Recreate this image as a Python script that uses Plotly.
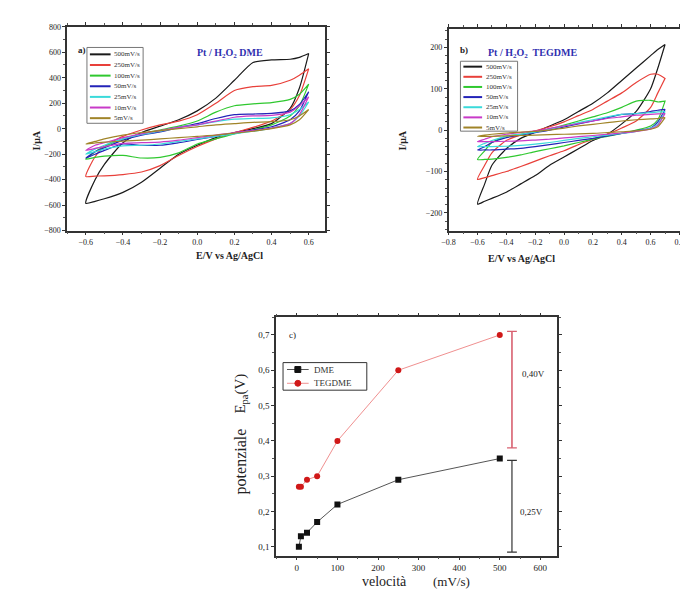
import plotly.graph_objects as go

# ---------------- data ----------------
rates = ["500mV/s", "250mV/s", "100mV/s", "50mV/s", "25mV/s", "10mV/s", "5mV/s"]
colors = ["#1a1a1a", "#e8403a", "#2fc82f", "#2323b8", "#3adada", "#c83ac8", "#a08428"]

# panel a (Pt / H2O2 DME) potential grid, forward scan (reverse scan uses it backwards)
Ea = [-0.6, -0.55, -0.5, -0.4, -0.3, -0.2, -0.1, 0.0, 0.1, 0.2, 0.3, 0.4, 0.5, 0.55, 0.6]
a500_f = [-585, -400, -280, -110, -30, 20, 70, 140, 240, 380, 520, 540, 545, 560, 590]
a500_r = [590, 320, 160, 40, 0, -30, -70, -130, -200, -310, -420, -500, -550, -570, -585]
a250_f = [-375, -220, -140, -60, -10, 30, 60, 110, 200, 300, 330, 340, 380, 420, 470]
a250_r = [470, 260, 150, 60, 10, -30, -80, -140, -210, -290, -340, -360, -370, -372, -375]
a100_f = [-240, -180, -140, -80, -40, -10, 20, 60, 130, 180, 195, 205, 230, 270, 350]
a100_r = [350, 180, 100, 30, -10, -40, -80, -120, -190, -225, -230, -210, -215, -225, -240]
a50_f = [-230, -180, -150, -90, -50, -25, 10, 40, 80, 110, 115, 120, 140, 190, 290]
a50_r = [290, 140, 70, 15, -10, -35, -60, -85, -110, -130, -130, -120, -170, -200, -230]
a25_f = [-200, -160, -130, -80, -45, -20, 10, 30, 55, 75, 80, 85, 110, 150, 210]
a25_r = [210, 100, 40, 5, -20, -40, -60, -80, -100, -120, -130, -135, -160, -180, -200]
a10_f = [-170, -130, -110, -70, -40, -15, 10, 30, 60, 90, 100, 105, 130, 180, 250]
a10_r = [250, 110, 40, 5, -15, -30, -50, -70, -90, -105, -110, -115, -140, -155, -170]
a5_f = [-120, -100, -80, -50, -30, -15, 0, 15, 30, 40, 50, 55, 70, 100, 150]
a5_r = [150, 70, 30, 0, -20, -35, -50, -60, -70, -80, -90, -98, -105, -112, -120]

# panel b (Pt / H2O2 TEGDME)
Eb = [-0.6, -0.55, -0.5, -0.4, -0.3, -0.2, -0.1, 0.0, 0.1, 0.2, 0.3, 0.4, 0.5, 0.6, 0.65, 0.7]
b500_f = [-179, -130, -85, -45, -20, -5, 10, 25, 45, 65, 90, 120, 150, 180, 195, 207]
b500_r = [207, 150, 100, 45, 15, -10, -25, -45, -65, -85, -110, -130, -150, -165, -172, -179]
b250_f = [-119, -85, -55, -25, -12, -2, 8, 20, 35, 50, 70, 90, 115, 135, 135, 125]
b250_r = [125, 90, 55, 22, 5, -10, -22, -35, -50, -62, -75, -88, -100, -110, -115, -119]
b100_f = [-71, -50, -30, -15, -10, -5, 3, 12, 22, 32, 42, 55, 70, 72, 68, 70]
b100_r = [70, 25, 10, 0, -8, -15, -22, -30, -38, -45, -52, -60, -66, -70, -71, -71]
b50_f = [-48, -40, -30, -18, -12, -6, 0, 8, 15, 22, 30, 38, 40, 45, 48, 50]
b50_r = [50, 20, 5, -2, -8, -14, -20, -25, -30, -35, -40, -44, -46, -48, -48, -48]
b25_f = [-40, -32, -25, -15, -10, -5, 2, 10, 18, 25, 32, 38, 40, 42, 44, 45]
b25_r = [45, 15, 5, -3, -8, -12, -16, -20, -25, -30, -34, -37, -39, -40, -40, -40]
b10_f = [-28, -22, -16, -10, -6, -2, 4, 10, 16, 22, 28, 32, 36, 38, 39, 40]
b10_r = [40, 12, 3, -3, -7, -10, -13, -16, -19, -22, -24, -26, -27, -28, -28, -28]
b5_f = [-15, -12, -10, -7, -5, -3, 0, 5, 10, 14, 18, 22, 25, 27, 28, 30]
b5_r = [30, 8, 2, -2, -4, -6, -8, -9, -10, -11, -12, -13, -14, -15, -15, -15]

# panel c: peak potential vs scan rate
v = [5, 10, 25, 50, 100, 250, 500]
Epa_DME = [0.10, 0.13, 0.14, 0.17, 0.22, 0.29, 0.35]
Epa_TEGDME = [0.27, 0.27, 0.29, 0.30, 0.40, 0.60, 0.70]
bracket_v = 530
span_TEGDME = [0.38, 0.71]
span_DME = [0.085, 0.345]
c_yticks = [0.1, 0.2, 0.3, 0.4, 0.5, 0.6, 0.7]
c_yticktext = ["0,1", "0,2", "0,3", "0,4", "0,5", "0,6", "0,7"]

a_sets = [(a500_f, a500_r), (a250_f, a250_r), (a100_f, a100_r), (a50_f, a50_r),
          (a25_f, a25_r), (a10_f, a10_r), (a5_f, a5_r)]
b_sets = [(b500_f, b500_r), (b250_f, b250_r), (b100_f, b100_r), (b50_f, b50_r),
          (b25_f, b25_r), (b10_f, b10_r), (b5_f, b5_r)]

SERIF = "Liberation Serif"
W, H = 688, 594
fig = go.Figure()

for i, (f, r) in enumerate(a_sets):
    fig.add_trace(go.Scatter(
        x=Ea + Ea[::-1], y=f + r, mode="lines", name=rates[i], showlegend=False,
        line=dict(color=colors[i], width=1.2, shape="spline", smoothing=0.6),
        xaxis="x", yaxis="y"))
for i, (f, r) in enumerate(b_sets):
    fig.add_trace(go.Scatter(
        x=Eb + Eb[::-1], y=f + r, mode="lines", name=rates[i], showlegend=False,
        line=dict(color=colors[i], width=1.2, shape="spline", smoothing=0.6),
        xaxis="x2", yaxis="y2"))

DME_LINE, DME_MK = "#555555", "#111111"
TEG_LINE, TEG_MK = "#f09090", "#d01818"
fig.add_trace(go.Scatter(x=v, y=Epa_DME, mode="lines+markers", name="DME", showlegend=False,
                         line=dict(color=DME_LINE, width=1),
                         marker=dict(symbol="square", size=6, color=DME_MK),
                         xaxis="x3", yaxis="y3"))
fig.add_trace(go.Scatter(x=v, y=Epa_TEGDME, mode="lines+markers", name="TEGDME", showlegend=False,
                         line=dict(color=TEG_LINE, width=1),
                         marker=dict(symbol="circle", size=6, color=TEG_MK),
                         xaxis="x3", yaxis="y3"))
fig.add_trace(go.Scatter(x=[bracket_v, bracket_v], y=span_TEGDME, mode="lines+markers",
                         line=dict(color="#d86070", width=1.6),
                         marker=dict(symbol="line-ew", size=7, line=dict(color="#d86070", width=1.2)),
                         showlegend=False, xaxis="x3", yaxis="y3"))
fig.add_trace(go.Scatter(x=[bracket_v, bracket_v], y=span_DME, mode="lines+markers",
                         line=dict(color="#333333", width=1.2),
                         marker=dict(symbol="line-ew", size=7, line=dict(color="#333333", width=1.2)),
                         showlegend=False, xaxis="x3", yaxis="y3"))


def px(x0, x1):
    return [x0 / W, x1 / W]


def py(top, bottom):
    return [1 - bottom / H, 1 - top / H]


def common(size):
    return dict(showline=True, linecolor="#333333", linewidth=1.5, mirror="ticks",
                ticks="outside", ticklen=3, tickcolor="#333333",
                tickfont=dict(family=SERIF, size=size, color="#222222"),
                showgrid=False, zeroline=False,
                minor=dict(ticks="outside", ticklen=2, tickcolor="#555555"))


fig.update_layout(
    width=W, height=H, margin=dict(l=0, r=0, t=0, b=0),
    paper_bgcolor="white", plot_bgcolor="white", showlegend=False,
    font=dict(family=SERIF, color="#222222"),
    xaxis=dict(domain=px(53, 315), range=[-0.70, 0.69], anchor="y",
               tickvals=[-0.6, -0.4, -0.2, 0.0, 0.2, 0.4, 0.6], tickformat=".1f", **common(8)),
    yaxis=dict(domain=py(15, 222), range=[-800, 800], anchor="x",
               tickvals=[-800, -600, -400, -200, 0, 200, 400, 600, 800], **common(8)),
    xaxis2=dict(domain=px(440, 686), range=[-0.8, 0.88], anchor="y2",
                tickvals=[-0.8, -0.6, -0.4, -0.2, 0.0, 0.2, 0.4, 0.6, 0.8], tickformat=".1f", **common(8)),
    yaxis2=dict(domain=py(17, 222), range=[-243, 245], anchor="x2",
                tickvals=[-200, -100, 0, 100, 200], **common(8)),
    xaxis3=dict(domain=px(265, 550), range=[-51, 641], anchor="y3",
                tickvals=[0, 100, 200, 300, 400, 500, 600], **common(9)),
    yaxis3=dict(domain=py(310, 552), range=[0.075, 0.75], anchor="x3",
                tickvals=c_yticks, ticktext=c_yticktext, **common(9)),
)

shapes = []
ann = []


def P(xp, yp):
    return xp / W, 1 - yp / H


def legend_box(x0, y0, x1, y1, color):
    a, b = P(x0, y0)
    c, d = P(x1, y1)
    shapes.append(dict(type="rect", xref="paper", yref="paper", x0=a, y0=d, x1=c, y1=b,
                       line=dict(color=color, width=1), fillcolor="white", layer="above"))


def legend_line(x0, x1, yp, color, width=2):
    a, b = P(x0, yp)
    c, _ = P(x1, yp)
    shapes.append(dict(type="line", xref="paper", yref="paper", x0=a, y0=b, x1=c, y1=b,
                       line=dict(color=color, width=width), layer="above"))


def legend_text(xp, yp, text, size):
    a, b = P(xp, yp)
    ann.append(dict(x=a, y=b, text=text, xanchor="left", yanchor="middle",
                    font=dict(size=size, color="#333333")))


# legend a
legend_box(73, 36, 130, 113, "#777777")
for i, name in enumerate(rates):
    yy = 43 + i * 10.8
    legend_line(76, 97, yy, colors[i])
    legend_text(98, yy, name, 7)
# legend b
legend_box(452, 50, 510, 121, "#777777")
for i, name in enumerate(rates):
    yy = 55.5 + i * 10.3
    legend_line(455, 474, yy, colors[i])
    legend_text(476, yy, name, 7)
# legend c
legend_box(272, 356, 357, 384, "#333333")
for j, (name, lc, mc, sym) in enumerate([("DME", DME_LINE, DME_MK, "square"),
                                          ("TEGDME", TEG_LINE, TEG_MK, "circle")]):
    yy = 363 + j * 14
    legend_line(276, 298, yy, lc, 1)
    a, b = P(284, yy - 3)
    c, d = P(290, yy + 3)
    shapes.append(dict(type="rect" if sym == "square" else "circle", xref="paper", yref="paper",
                       x0=a, y0=d, x1=c, y1=b, line=dict(color=mc, width=1), fillcolor=mc,
                       layer="above"))
    legend_text(301, yy, name, 9)

ann += [
    dict(x=62 / W, y=1 - 31 / H, text="<b>a)</b>", font=dict(size=9)),
    dict(x=183 / W, y=1 - 33 / H, text="<b>Pt / H<sub>2</sub>O<sub>2</sub> DME</b>",
         font=dict(size=10, color="#3030b0")),
    dict(x=456 / W, y=1 - 31 / H, text="<b>b)</b>", font=dict(size=9)),
    dict(x=572 / W, y=1 - 33 / H, text="<b>Pt / H<sub>2</sub>O<sub>2</sub>  TEGDME</b>",
         font=dict(size=10, color="#3030b0")),
    dict(x=14 / W, y=1 - 118 / H, text="<b>I/μA</b>", textangle=-90, font=dict(size=10)),
    dict(x=393 / W, y=1 - 118 / H, text="<b>I/μA</b>", textangle=-90, font=dict(size=10)),
    dict(x=182 / W, y=1 - 247 / H, text="<b>E/V vs Ag/AgCl</b>", font=dict(size=10)),
    dict(x=550 / W, y=1 - 250 / H, text="<b>E/V vs Ag/AgCl</b>", font=dict(size=10)),
    dict(x=218 / W, y=1 - 410 / H, text="E<sub>pa</sub>(V)", textangle=-90, font=dict(size=15)),
    dict(x=218 / W, y=1 - 492 / H, text="potenziale", textangle=-90, font=dict(size=16)),
    dict(x=375 / W, y=1 - 588 / H, text="velocità", font=dict(size=14)),
    dict(x=443 / W, y=1 - 588 / H, text="(mV/s)", font=dict(size=13)),
]
for a in ann:
    a.update(xref="paper", yref="paper", showarrow=False)
    fig.add_annotation(**a)

fig.add_annotation(x=-10, y=0.7, xref="x3", yref="y3", text="c)", showarrow=False,
                   font=dict(size=9))
fig.add_annotation(x=582, y=0.59, xref="x3", yref="y3", text="0,40V", showarrow=False,
                   font=dict(size=9))
fig.add_annotation(x=578, y=0.2, xref="x3", yref="y3", text="0,25V", showarrow=False,
                   font=dict(size=9))

fig.update_layout(shapes=shapes)
fig.write_html("out.html")
